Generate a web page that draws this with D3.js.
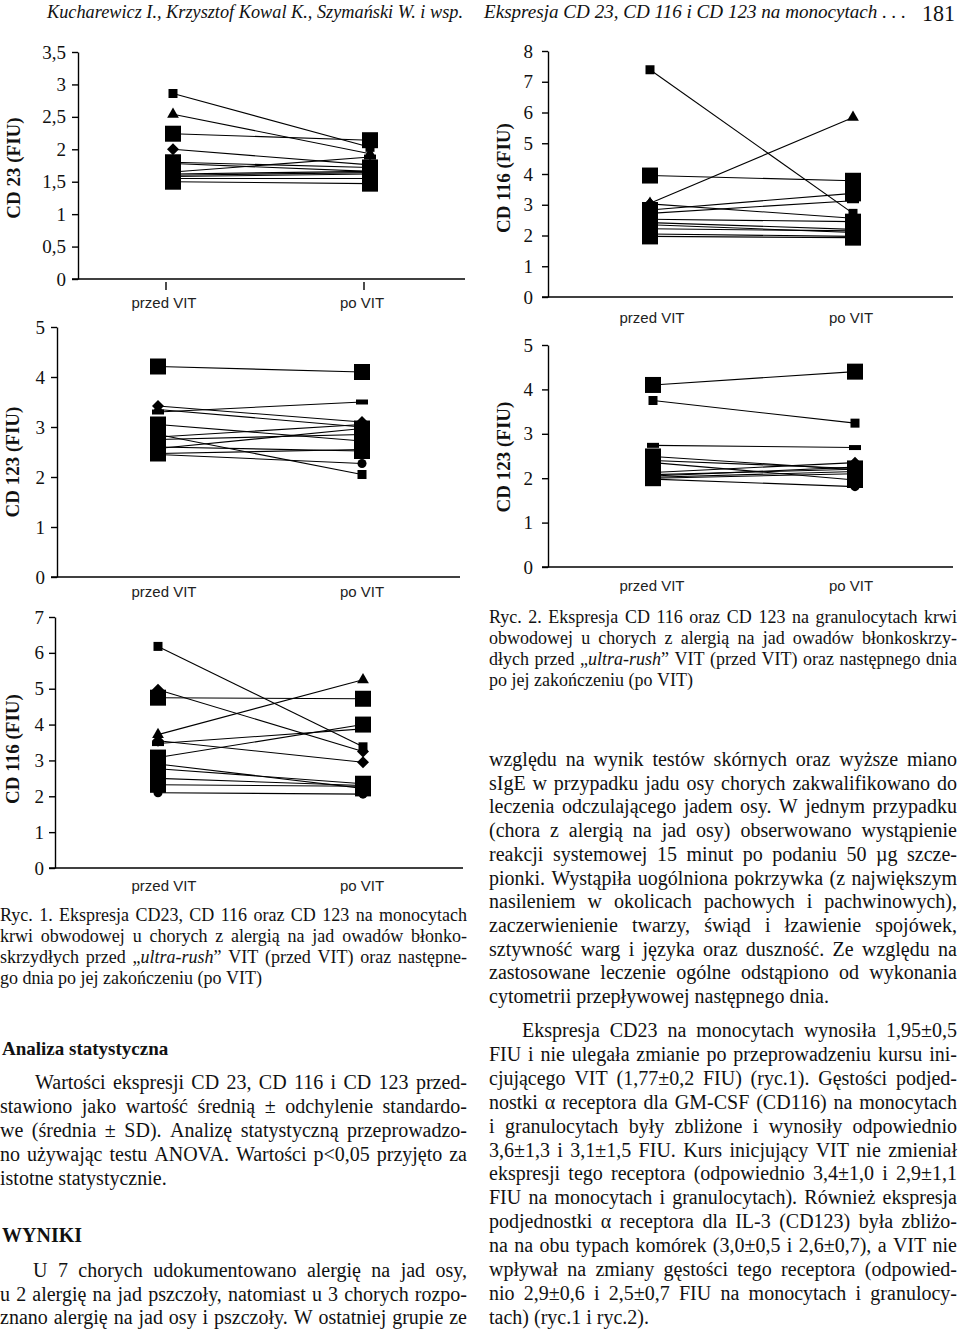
<!DOCTYPE html>
<html>
<head>
<meta charset="utf-8">
<script src="https://cdn.jsdelivr.net/npm/d3@7"></script>
<style>
body { margin: 0; background: #fff; }
svg { display: block; }
.serif { font-family: 'Liberation Serif', 'Times New Roman', serif; fill: #111; }
.sans { font-family: 'Liberation Sans', Arial, sans-serif; fill: #222; }
</style>
</head>
<body>
<svg id="page" width="960" height="1331"></svg>
<script>
// categories and marker styles (one style per patient, as in the Excel series)
var categories = ['przed VIT', 'po VIT'];
var seriesMarkers = ['diamond', 'square', 'triangle', 'bigsquare', 'bigsquare', 'circle',
	'bigsquare', 'dash', 'bigsquare', 'diamond', 'bigsquare', 'bigsquare'];

// values (FIU)
var cd23MonoPre   = [2.00, 2.86, 2.54, 2.24, 1.80, 1.58, 1.50, 1.65, 1.60, 1.62, 1.55, 1.78];
var cd23MonoPost  = [1.76, 2.03, 1.93, 2.14, 1.72, 1.62, 1.47, 1.88, 1.64, 1.66, 1.55, 1.66];
var cd123MonoPre  = [3.42, 2.85, 3.35, 4.21, 3.05, 2.45, 2.60, 3.30, 2.47, 2.80, 2.57, 2.75];
var cd123MonoPost = [3.10, 2.05, 3.00, 4.10, 2.72, 2.27, 2.52, 3.50, 2.55, 3.05, 2.97, 2.85];
var cd116MonoPre  = [4.97, 6.18, 3.72, 4.75, 3.08, 2.10, 2.77, 3.47, 2.50, 3.55, 2.32, 2.90];
var cd116MonoPost = [3.25, 3.38, 5.25, 4.72, 4.00, 2.06, 2.35, 3.88, 2.30, 2.95, 2.28, 2.22];
var cd116GranPre  = [3.03, 7.39, 3.05, 3.95, 2.83, 2.05, 2.53, 2.72, 2.42, 2.35, 2.22, 1.97];
var cd116GranPost = [2.56, 2.72, 5.84, 3.78, 3.37, 1.97, 2.45, 3.13, 2.20, 2.10, 2.15, 1.93];
var cd123GranPre  = [2.13, 3.75, 2.08, 4.10, 2.49, 1.98, 2.35, 2.74, 2.02, 2.05, 2.00, 2.40];
var cd123GranPost = [2.35, 3.24, 2.20, 4.40, 2.19, 1.81, 1.96, 2.69, 2.15, 2.25, 2.10, 2.22];

// tick values
var ticksCD23 = [0, 0.5, 1, 1.5, 2, 2.5, 3, 3.5];
var ticks5 = [0, 1, 2, 3, 4, 5];
var ticks7 = [0, 1, 2, 3, 4, 5, 6, 7];
var ticks8 = [0, 1, 2, 3, 4, 5, 6, 7, 8];

// page text
var headerLeft = 'Kucharewicz I., Krzysztof Kowal K., Szymański W. i wsp.';
var headerRight = 'Ekspresja CD 23, CD 116 i CD 123 na monocytach . . .';
var pageNo = '181';

var caption1Lines = [
	'Ryc. 1. Ekspresja CD23, CD 116 oraz CD 123 na monocytach',
	'krwi obwodowej u chorych z alergią na jad owadów błonko-',
	'skrzydłych przed „*ultra-rush*” VIT (przed VIT) oraz następne-',
	'go dnia po jej zakończeniu (po VIT)'
];
var statLines = [
	'Wartości ekspresji CD 23, CD 116 i CD 123 przed-',
	'stawiono jako wartość średnią ± odchylenie standardo-',
	'we (średnia ± SD). Analizę statystyczną przeprowadzo-',
	'no używając testu ANOVA. Wartości p<0,05 przyjęto za',
	'istotne statystycznie.'
];
var resultLines = [
	'U 7 chorych udokumentowano alergię na jad osy,',
	'u 2 alergię na jad pszczoły, natomiast u 3 chorych rozpo-',
	'znano alergię na jad osy i pszczoły. W ostatniej grupie ze'
];
var caption2Lines = [
	'Ryc. 2. Ekspresja CD 116 oraz CD 123 na granulocytach krwi',
	'obwodowej u chorych z alergią na jad owadów błonkoskrzy-',
	'dłych przed „*ultra-rush*” VIT (przed VIT) oraz następnego dnia',
	'po jej zakończeniu (po VIT)'
];
var rightPara1 = [
	'względu na wynik testów skórnych oraz wyższe miano',
	'sIgE w przypadku jadu osy chorych zakwalifikowano do',
	'leczenia odczulającego jadem osy. W jednym przypadku',
	'(chora z alergią na jad osy) obserwowano wystąpienie',
	'reakcji systemowej 15 minut po podaniu 50 µg szcze-',
	'pionki. Wystąpiła uogólniona pokrzywka (z największym',
	'nasileniem w okolicach pachowych i pachwinowych),',
	'zaczerwienienie twarzy, świąd i łzawienie spojówek,',
	'sztywność warg i języka oraz duszność. Ze względu na',
	'zastosowane leczenie ogólne odstąpiono od wykonania',
	'cytometrii przepływowej następnego dnia.'
];
var rightPara2 = [
	'Ekspresja CD23 na monocytach wynosiła 1,95±0,5',
	'FIU i nie ulegała zmianie po przeprowadzeniu kursu ini-',
	'cjującego VIT (1,77±0,2 FIU) (ryc.1). Gęstości podjed-',
	'nostki α receptora dla GM-CSF (CD116) na monocytach',
	'i granulocytach były zbliżone i wynosiły odpowiednio',
	'3,6±1,3 i 3,1±1,5 FIU. Kurs inicjujący VIT nie zmieniał',
	'ekspresji tego receptora (odpowiednio 3,4±1,0 i 2,9±1,1',
	'FIU na monocytach i granulocytach). Również ekspresja',
	'podjednostki α receptora dla IL-3 (CD123) była zbliżo-',
	'na na obu typach komórek (3,0±0,5 i 2,6±0,7), a VIT nie',
	'wpływał na zmiany gęstości tego receptora (odpowied-',
	'nio 2,9±0,6 i 2,5±0,7 FIU na monocytach i granulocy-',
	'tach) (ryc.1 i ryc.2).'
];

var svg = d3.select('#page');
var fmt = d3.formatLocale({decimal: ',', thousands: ' ', grouping: [3], currency: ['', ' zł']}).format('~g');

var shapes = {
	bigsquare: d3.symbol(d3.symbolSquare, 256),
	square: d3.symbol(d3.symbolSquare, 81),
	triangle: d3.symbol(d3.symbolTriangle, 60),
	circle: d3.symbol(d3.symbolCircle, 64),
	diamond: function() { return 'M0,-6L6,0L0,6L-6,0Z'; },
	dash: function() { return 'M-6,-2.5H6V2.5H-6Z'; }
};

var charts = [
	{pre: cd23MonoPre, post: cd23MonoPost, ticks: ticksCD23, title: 'CD 23 (FIU)',
		axisX: 78, y0: 279, yTop: 52, xEnd: 465, markX: [173, 370], labelX: [164, 362], labelY: 308,
		titleX: 13, titleY: 168, tickPad: 6, catTicks: true},
	{pre: cd123MonoPre, post: cd123MonoPost, ticks: ticks5, title: 'CD 123 (FIU)',
		axisX: 57, y0: 577, yTop: 327, xEnd: 460, markX: [158, 362], labelX: [164, 362], labelY: 597,
		titleX: 12, titleY: 462, tickPad: 6},
	{pre: cd116MonoPre, post: cd116MonoPost, ticks: ticks7, title: 'CD 116 (FIU)',
		axisX: 55, y0: 868, yTop: 617, xEnd: 463, markX: [158, 363], labelX: [164, 362], labelY: 891,
		titleX: 12, titleY: 749, tickPad: 5},
	{pre: cd116GranPre, post: cd116GranPost, ticks: ticks8, title: 'CD 116 (FIU)',
		axisX: 548, y0: 297, yTop: 51, xEnd: 953, markX: [650, 853], labelX: [652, 851], labelY: 323,
		titleX: 503, titleY: 178, tickPad: 9},
	{pre: cd123GranPre, post: cd123GranPost, ticks: ticks5, title: 'CD 123 (FIU)',
		axisX: 548, y0: 567, yTop: 345, xEnd: 953, markX: [653, 855], labelX: [652, 851], labelY: 591,
		titleX: 503, titleY: 457, tickPad: 9}
];

charts.forEach(function(c) {
	var g = svg.append('g');
	var y = d3.scaleLinear().domain([0, d3.max(c.ticks)]).range([c.y0, c.yTop]);
	var x = d3.scalePoint().domain(categories).range(c.markX);
	var xl = d3.scalePoint().domain(categories).range(c.labelX);

	g.append('line')
		.attr('x1', c.axisX - 6).attr('x2', c.xEnd)
		.attr('y1', c.y0).attr('y2', c.y0)
		.attr('stroke', '#000').attr('stroke-width', 1.4);

	var ax = g.append('g')
		.attr('transform', 'translate(' + c.axisX + ',0)')
		.call(d3.axisLeft(y).tickValues(c.ticks).tickFormat(fmt)
			.tickSize(6).tickSizeOuter(0).tickPadding(c.tickPad));
	ax.attr('font-family', null).attr('font-size', null);
	ax.select('.domain').attr('stroke', '#000').attr('stroke-width', 1.4);
	ax.selectAll('.tick line').attr('stroke', '#000').attr('stroke-width', 1.4);
	ax.selectAll('.tick text')
		.attr('class', 'serif')
		.attr('font-size', 19);

	if (c.catTicks) {
		g.selectAll('line.cat')
			.data(categories)
			.join('line')
			.attr('class', 'cat')
			.attr('x1', function(d) { return xl(d) + 2; })
			.attr('x2', function(d) { return xl(d) + 2; })
			.attr('y1', c.y0 + 3).attr('y2', c.y0 + 11)
			.attr('stroke', '#000').attr('stroke-width', 1.4);
	}

	g.selectAll('text.cat')
		.data(categories)
		.join('text')
		.attr('class', 'sans')
		.attr('x', function(d) { return xl(d); })
		.attr('y', c.labelY)
		.attr('text-anchor', 'middle')
		.attr('font-size', 15)
		.text(function(d) { return d; });

	g.append('text')
		.attr('class', 'serif')
		.attr('transform', 'translate(' + c.titleX + ',' + c.titleY + ') rotate(-90)')
		.attr('text-anchor', 'middle')
		.attr('dominant-baseline', 'central')
		.attr('font-weight', 'bold')
		.attr('font-size', 19)
		.text(c.title);

	var idx = d3.range(c.pre.length);

	g.selectAll('line.series')
		.data(idx)
		.join('line')
		.attr('class', 'series')
		.attr('x1', x(categories[0]))
		.attr('x2', x(categories[1]))
		.attr('y1', function(i) { return y(c.pre[i]); })
		.attr('y2', function(i) { return y(c.post[i]); })
		.attr('stroke', '#000')
		.attr('stroke-width', 1.1);

	idx.forEach(function(i) {
		[[categories[0], c.pre[i]], [categories[1], c.post[i]]].forEach(function(p) {
			g.append('path')
				.attr('d', shapes[seriesMarkers[i]]())
				.attr('transform', 'translate(' + x(p[0]) + ',' + y(p[1]) + ')')
				.attr('fill', '#000');
		});
	});
});

// header
svg.append('text').attr('class', 'serif')
	.attr('x', 47).attr('y', 18).attr('font-size', 19).attr('font-style', 'italic')
	.attr('textLength', 416).attr('lengthAdjust', 'spacingAndGlyphs')
	.text(headerLeft);
svg.append('text').attr('class', 'serif')
	.attr('x', 484).attr('y', 18).attr('font-size', 19).attr('font-style', 'italic')
	.attr('textLength', 422).attr('lengthAdjust', 'spacingAndGlyphs')
	.text(headerRight);
svg.append('text').attr('class', 'serif')
	.attr('x', 922).attr('y', 21).attr('font-size', 23)
	.attr('textLength', 33).attr('lengthAdjust', 'spacingAndGlyphs')
	.text(pageNo);

// justified text lines, word by word
function drawLine(str, x0, x1, y, fs, justify) {
	var gl = svg.append('g');
	var words = str.split(' ');
	var nodes = words.map(function(w) {
		var t = gl.append('text').attr('class', 'serif').attr('font-size', fs).attr('y', y);
		w.split('*').forEach(function(seg, k) {
			if (seg) t.append('tspan').attr('font-style', k % 2 ? 'italic' : null).text(seg);
		});
		return t;
	});
	var widths = nodes.map(function(n) { return n.node().getComputedTextLength(); });
	var total = d3.sum(widths);
	var space = fs * 0.25;
	var gap = space;
	if (justify && words.length > 1) gap = (x1 - x0 - total) / (words.length - 1);
	var scale = 1;
	if (gap < fs * 0.16) {
		gap = fs * 0.16;
		var natural = total + gap * (words.length - 1);
		if (justify || natural > x1 - x0) scale = (x1 - x0) / natural;
	}
	var xx = x0;
	nodes.forEach(function(n, k) {
		n.attr('x', xx);
		xx += widths[k] + gap;
	});
	if (scale !== 1) {
		gl.attr('transform', 'translate(' + x0 + ',0) scale(' + scale + ',1) translate(' + (-x0) + ',0)');
	}
}

function drawBlock(lines, b) {
	lines.forEach(function(line, k) {
		var last = k === lines.length - 1;
		var start = k === 0 ? b.x0 + (b.indent || 0) : b.x0;
		drawLine(line, start, b.x1, b.y + k * b.lh, b.fs, !last || b.justifyLast);
	});
}

drawBlock(caption1Lines, {x0: 0, x1: 467, y: 921, lh: 21, fs: 18});
drawBlock(statLines, {x0: 0, x1: 467, y: 1089, lh: 24, fs: 20, indent: 35});
drawBlock(resultLines, {x0: 0, x1: 467, y: 1277, lh: 23.5, fs: 20, indent: 33, justifyLast: true});
drawBlock(caption2Lines, {x0: 489, x1: 957, y: 623, lh: 21, fs: 18});
drawBlock(rightPara1, {x0: 489, x1: 957, y: 766, lh: 23.7, fs: 20});
drawBlock(rightPara2, {x0: 489, x1: 957, y: 1037, lh: 23.9, fs: 20, indent: 33});

svg.append('text').attr('class', 'serif')
	.attr('x', 2).attr('y', 1055).attr('font-size', 19).attr('font-weight', 'bold')
	.text('Analiza statystyczna');
svg.append('text').attr('class', 'serif')
	.attr('x', 2).attr('y', 1242).attr('font-size', 20).attr('font-weight', 'bold')
	.text('WYNIKI');
</script>
</body>
</html>
